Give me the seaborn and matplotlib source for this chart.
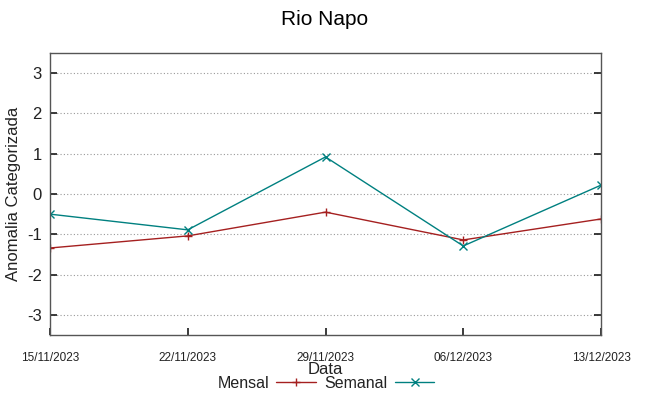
import matplotlib
matplotlib.use("Agg")
import matplotlib.pyplot as plt
import seaborn as sns
import pandas as pd
import numpy as np

dates = ["15/11/2023", "22/11/2023", "29/11/2023", "06/12/2023", "13/12/2023"]
mensal = [-1.34, -1.04, -0.45, -1.14, -0.62]
semanal = [-0.50, -0.89, 0.92, -1.29, 0.22]
yticks = [-3, -2, -1, 0, 1, 2, 3]

sns.set_theme(style="white")
plt.rcParams['font.family'] = ['Liberation Sans', 'DejaVu Sans']
plt.rcParams['text.color'] = 'black'

x = np.arange(len(dates))
df = pd.DataFrame({"x": np.concatenate([x, x]),
                   "y": mensal + semanal,
                   "serie": ["Mensal"] * len(x) + ["Semanal"] * len(x)})

fig = plt.figure(figsize=(6.49, 3.96), dpi=100)
ax = fig.add_axes([50/649, 1 - 335/396, (601-50)/649, (335-53)/396])

colors = {"Mensal": "#a52020", "Semanal": "#008080"}
for name, mk in [("Mensal", "+"), ("Semanal", "x")]:
    sub = df[df.serie == name]
    sns.lineplot(data=sub, x="x", y="y", ax=ax, color=colors[name], marker=mk,
                 markersize=6, markeredgewidth=1, markeredgecolor=colors[name],
                 markerfacecolor=colors[name], linewidth=1, label=name, legend=False)

ax.set_xlim(0, len(dates) - 1)
ax.set_ylim(-3.5, 3.5)
ax.set_yticks(yticks)
ax.set_yticklabels([str(t) for t in yticks], fontsize=12)
ax.set_xticks(x)
ax.set_xticklabels(dates, fontsize=8.5)
ax.tick_params(axis='x', direction='in', top=False, bottom=True, length=5, pad=12, colors='#222222')
ax.tick_params(axis='y', direction='in', left=True, right=True, length=5, pad=6, colors='#222222')
for lab in ax.get_xticklabels() + ax.get_yticklabels():
    lab.set_color('#222222')
ax.grid(axis='y', linestyle=(0, (1, 2)), color='#999999', linewidth=0.8)
for s in ax.spines.values():
    s.set_color('#555555')
    s.set_linewidth(1)

ax.set_xlabel("Data", fontsize=12, labelpad=-1, color='#222222')
ax.set_ylabel("Anomalia Categorizada", fontsize=12, labelpad=4, color='#222222')
fig.suptitle("Rio Napo", fontsize=15, y=0.975, color='black')

handles, labels = ax.get_legend_handles_labels()
leg = fig.legend(handles, labels, loc='center', bbox_to_anchor=(326/649, 1 - 383/396), ncol=2,
                 frameon=False, markerfirst=False, fontsize=11.5, handlelength=2.5,
                 columnspacing=0.5, handletextpad=0.45, borderaxespad=0, borderpad=0)
for t in leg.get_texts():
    t.set_color('#222222')

fig.savefig("out.png", dpi=100)
